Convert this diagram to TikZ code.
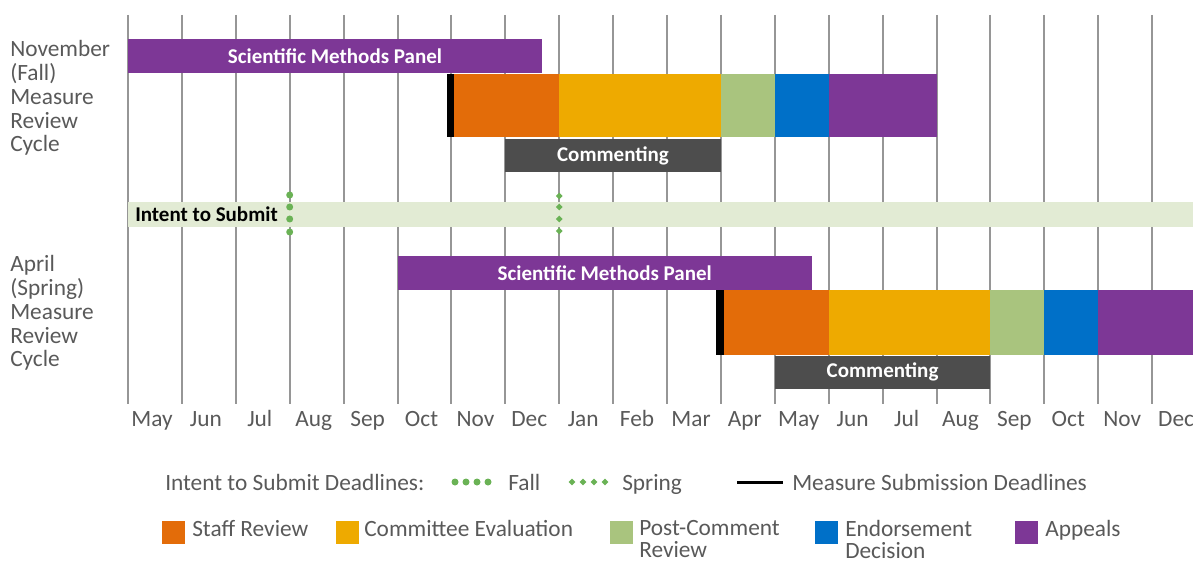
\documentclass[tikz,border=0pt]{standalone}
\usepackage{fontspec}
\setmainfont{Carlito}
\usepackage{tikz}
\usetikzlibrary{shapes.geometric}

\definecolor{purplebar}{RGB}{125,55,150}
\definecolor{staffcol}{RGB}{227,108,9}
\definecolor{evalcol}{RGB}{238,170,0}
\definecolor{postcol}{RGB}{169,196,126}
\definecolor{decisioncol}{RGB}{0,112,200}
\definecolor{commentcol}{RGB}{77,77,77}
\definecolor{intentcol}{RGB}{226,235,212}
\definecolor{markgreen}{RGB}{106,178,85}
\definecolor{gridgray}{RGB}{150,150,150}
\definecolor{labelgray}{RGB}{89,89,89}

\begin{document}
\begin{tikzpicture}
  [x=0.75pt,y=-0.75pt,
   every node/.style={inner sep=0pt,text=labelgray,font=\fontsize{17.5}{17.9}\selectfont},
   barlabel/.style={text=white,font=\bfseries\fontsize{15.75}{17}\selectfont},
   fallmark/.style={circle,fill=markgreen,minimum size=5.25pt},
   springmark/.style={diamond,fill=markgreen,minimum size=5.25pt},
   keybox/.style={fill=#1,minimum size=17.25pt},
   keytext/.style={anchor=north west,align=left,font=\fontsize{17.5}{16.8}\selectfont}]
  \useasboundingbox (0,0) rectangle (1193,563);
  % month grid
  \foreach \k in {0,...,19}
    \draw[gridgray,line width=1.5pt] ({128+53.9*\k},15) -- ({128+53.9*\k},404);
  \foreach \m [count=\k from 0] in {May,Jun,Jul,Aug,Sep,Oct,Nov,Dec,Jan,Feb,Mar,Apr,May,Jun,Jul,Aug,Sep,Oct,Nov,Dec}
    \node[anchor=base] (m\k) at ({152+53.9*\k},426) {\m};

  % fall cycle
  \node[anchor=west,align=left] (fall) at (10,98) {November\\(Fall)\\Measure\\Review\\Cycle};
  \fill[purplebar] (128,39) rectangle (542,73.5);
  \node[barlabel] (smpfall) at (335,56.5) {Scientific Methods Panel};
  \fill[black] (446.5,74) rectangle (454.3,137.5);
  \fill[staffcol] (454.3,74) rectangle (559.2,137.5);
  \fill[evalcol] (559.2,74) rectangle (720.9,137.5);
  \fill[postcol] (720.9,74) rectangle (774.8,137.5);
  \fill[decisioncol] (774.8,74) rectangle (828.7,137.5);
  \fill[purplebar] (828.7,74) rectangle (936.5,137.5);
  \fill[commentcol] (505.3,139) rectangle (720.9,172);
  \node[barlabel] (comfall) at (613,156) {Commenting};

  % intent to submit
  \fill[intentcol] (128,202) rectangle (1193,227);
  \node[anchor=west,text=black,font=\bfseries\fontsize{15.75}{17}\selectfont] (intent) at (135,214.5) {Intent to Submit};
  \foreach \y in {195,207,219,232}
    \node[fallmark] (fd\y) at (289.7,\y) {};
  \foreach \y in {196,207,219,231}
    \node[springmark] (sd\y) at (559.2,\y) {};

  % spring cycle
  \node[anchor=west,align=left] (spring) at (10,313) {April\\(Spring)\\Measure\\Review\\Cycle};
  \fill[purplebar] (397.5,256) rectangle (812,290);
  \node[barlabel] (smpspring) at (604.75,273) {Scientific Methods Panel};
  \fill[black] (716,290) rectangle (724,354.5);
  \fill[staffcol] (724,290) rectangle (828.7,354.5);
  \fill[evalcol] (828.7,290) rectangle (990.4,354.5);
  \fill[postcol] (990.4,290) rectangle (1044.3,354.5);
  \fill[decisioncol] (1044.3,290) rectangle (1098.2,354.5);
  \fill[purplebar] (1098.2,290) rectangle (1193,354.5);
  \fill[commentcol] (774.8,355.5) rectangle (990.4,389);
  \node[barlabel] (comspring) at (882.6,372) {Commenting};

  % legend
  \node[anchor=base west] (isd) at (165,490) {Intent to Submit Deadlines:};
  \foreach \i in {0,...,3}
    \node[fallmark] (kf\i) at ({455+11*\i},482) {};
  \node[anchor=base west] (kfall) at (508,490) {Fall};
  \foreach \i in {0,...,3}
    \node[springmark] (ks\i) at ({572+11*\i},482) {};
  \node[anchor=base west] (kspring) at (622,490) {Spring};
  \coordinate (kl1) at (737,482);
  \coordinate (kl2) at (783,482);
  \draw[line width=2.25pt] (kl1) -- (kl2);
  \node[anchor=base west] (kmsd) at (792,490) {Measure Submission Deadlines};

  \node[keybox=staffcol] (kstaff) at (173.5,532) {};
  \node[keytext] (tstaff) at (192,520) {Staff Review};
  \node[keybox=evalcol] (keval) at (347,532) {};
  \node[keytext] (teval) at (364,520) {Committee Evaluation};
  \node[keybox=postcol] (kpost) at (621.5,532) {};
  \node[keytext] (tpost) at (639,520) {Post-Comment\\Review};
  \node[keybox=decisioncol] (kdec) at (826.5,532) {};
  \node[keytext] (tdec) at (845,520) {Endorsement\\Decision};
  \node[keybox=purplebar] (kapp) at (1026.5,532) {};
  \node[keytext] (tapp) at (1045,520) {Appeals};
\end{tikzpicture}
\end{document}
